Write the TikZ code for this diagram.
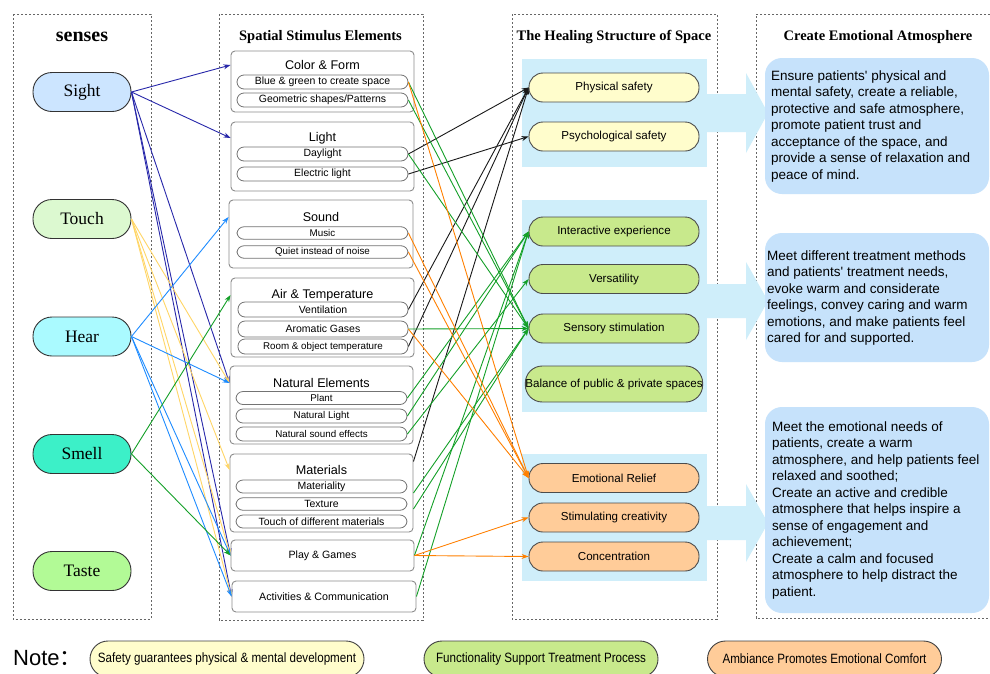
\documentclass[tikz,border=0pt]{standalone}
\usepackage{fontspec}
\setmainfont{Liberation Serif}
\newfontfamily\sansf{Liberation Sans}
\newfontfamily\cjkf{Noto Sans CJK SC}
\usetikzlibrary{arrows.meta}
\definecolor{cdb}{RGB}{40,40,170}
\definecolor{cbb}{RGB}{30,140,255}
\definecolor{cyl}{RGB}{255,214,102}
\definecolor{cgr}{RGB}{20,160,40}
\definecolor{cor}{RGB}{255,128,0}
\definecolor{cbk}{RGB}{25,25,25}
\definecolor{fsight}{RGB}{204,229,255}
\definecolor{ftouch}{RGB}{220,249,208}
\definecolor{fhear}{RGB}{170,250,255}
\definecolor{fsmell}{RGB}{60,240,200}
\definecolor{ftaste}{RGB}{178,250,150}
\definecolor{fyel}{RGB}{255,253,204}
\definecolor{fgrn}{RGB}{200,233,140}
\definecolor{fora}{RGB}{255,204,153}
\definecolor{fbg}{RGB}{207,238,250}
\definecolor{fbox}{RGB}{198,226,251}
\begin{document}
\begin{tikzpicture}[x=1pt,y=-1pt,
 colbox/.style={draw=black!60, line width=0.8pt, dash pattern=on 2.2pt off 1.8pt},
 ctitle/.style={font=\fontsize{14.5}{17}\selectfont\bfseries, inner sep=0pt},
 sensenode/.style={draw=black!80, line width=0.9pt, rounded corners=19pt, minimum width=98pt, minimum height=39pt, inner sep=0pt, font=\fontsize{17.5}{20}\selectfont},
 elbox/.style={draw=black!45, line width=0.9pt, rounded corners=4pt, fill=white, inner sep=0pt},
 eltitle/.style={font=\sansf\fontsize{12.6}{14}\selectfont, inner sep=0pt},
 subpill/.style={draw=black!55, line width=0.8pt, rounded corners=7pt, minimum width=171pt, minimum height=14pt, inner sep=0pt, fill=white, font=\sansf\fontsize{10.5}{12}\selectfont},
 hpill/.style={draw=black!70, line width=0.9pt, rounded corners=14pt, minimum width=170pt, minimum height=29pt, inner sep=0pt, font=\sansf\fontsize{11.6}{13}\selectfont},
 abox/.style={fill=fbox, draw=none, rounded corners=17pt, minimum width=224pt, inner sep=0pt},
 atext/.style={anchor=west, align=left, inner sep=0pt, font=\sansf\fontsize{13.5}{16.5}\selectfont},
 legpill/.style={draw=black!75, line width=0.9pt, rounded corners=18pt, minimum height=36pt, inner sep=0pt, font=\sansf\fontsize{13.5}{15}\selectfont},
 conn/.style={line width=0.9pt, -{Stealth[length=7pt,width=5pt]}},
]
\useasboundingbox (0,0) rectangle (990,673);
\fill[white] (0,0) rectangle (990,673);

% column frames
\draw[colbox] (13,14) rectangle (151,619);
\draw[colbox] (219,14) rectangle (423,620);
\draw[colbox] (512,14) rectangle (717,619);
\draw[colbox] (990,14) -- (756,14) -- (756,618) -- (990,618);

% titles
\node[ctitle, font=\fontsize{20}{23}\selectfont\bfseries] (h1) at (82,37) {senses};
\node[ctitle] (h2) at (320.5,37) {Spatial Stimulus Elements};
\node[ctitle] (h3) at (614,37) {The Healing Structure of Space};
\node[ctitle] (h4) at (878,37) {Create Emotional Atmosphere};

% senses
\node[sensenode, fill=fsight] (si) at (82,92) {Sight};
\node[sensenode, fill=ftouch] (to) at (82,219) {Touch};
\node[sensenode, fill=fhear] (he) at (82,336.5) {Hear};
\node[sensenode, fill=fsmell] (sm) at (82,454) {Smell};
\node[sensenode, fill=ftaste] (ta) at (82,571) {Taste};

% spatial stimulus elements
\node[elbox, minimum width=183pt, minimum height=61pt] (cf) at (322.5,81.5) {};
\node[eltitle] (cft) at (322.5,65) {Color \& Form};
\node[subpill] (bgc) at (322.5,82) {Blue \& green to create space};
\node[subpill] (geo) at (322.5,100) {Geometric shapes/Patterns};

\node[elbox, minimum width=183pt, minimum height=69pt] (lb) at (322.5,156.5) {};
\node[eltitle] (lbt) at (322.5,138) {Light};
\node[subpill] (day) at (322.5,154) {Daylight};
\node[subpill] (ele) at (322.5,174) {Electric light};

\node[elbox, minimum width=184pt, minimum height=68pt] (sb) at (321,234) {};
\node[eltitle] (sbt) at (321,217) {Sound};
\node[subpill, minimum height=12.5pt, font=\sansf\fontsize{9.8}{11}\selectfont] (mus) at (322.5,233) {Music};
\node[subpill, minimum height=12.5pt, font=\sansf\fontsize{9.8}{11}\selectfont] (qui) at (322.5,252) {Quiet instead of noise};

\node[elbox, minimum width=183pt, minimum height=79pt] (ab) at (322.5,317.5) {};
\node[eltitle] (abt) at (322.5,295) {Air \& Temperature};
\node[subpill, minimum width=170pt, minimum height=15pt] (ven) at (323,309.5) {Ventilation};
\node[subpill, minimum width=170pt, minimum height=16pt] (aro) at (323,329) {Aromatic Gases};
\node[subpill, minimum width=170pt, minimum height=15pt, font=\sansf\fontsize{9.8}{11}\selectfont] (roo) at (323,346.5) {Room \& object temperature};

\node[elbox, minimum width=183pt, minimum height=78pt] (nb) at (321.5,405) {};
\node[eltitle] (nbt) at (321.5,383) {Natural Elements};
\node[subpill, minimum height=13pt, font=\sansf\fontsize{9.8}{11}\selectfont] (pla) at (321.5,398) {Plant};
\node[subpill, font=\sansf\fontsize{9.8}{11}\selectfont] (nli) at (321.5,416) {Natural Light};
\node[subpill, font=\sansf\fontsize{9.8}{11}\selectfont] (nso) at (321.5,434) {Natural sound effects};

\node[elbox, minimum width=183pt, minimum height=78pt] (mb) at (321.5,493) {};
\node[eltitle] (mbt) at (321.5,470) {Materials};
\node[subpill, minimum height=13pt] (mty) at (321.5,486.5) {Materiality};
\node[subpill, minimum height=12.5pt] (tex) at (321.5,504) {Texture};
\node[subpill, minimum height=13pt] (tou) at (321.5,521.5) {Touch of different materials};

\node[elbox, minimum width=183pt, minimum height=31pt, font=\sansf\fontsize{10.6}{12}\selectfont] (pg) at (322.5,555.5) {Play \& Games};
\node[elbox, minimum width=184pt, minimum height=31pt, font=\sansf\fontsize{10.7}{12}\selectfont] (ac) at (324,596.5) {Activities \& Communication};

% healing structure backgrounds and big arrows
\fill[fbg] (522,59) rectangle (707,167);
\fill[fbg] (522,200) rectangle (707,412);
\fill[fbg] (522,454) rectangle (707,581);
\fill[fbg] (706,94) -- (746,94) -- (746,73) -- (768,113) -- (746,153) -- (746,132) -- (706,132) -- cycle;
\fill[fbg] (706,284) -- (746,284) -- (746,262) -- (768,301) -- (746,340) -- (746,318) -- (706,318) -- cycle;
\fill[fbg] (706,506) -- (746,506) -- (746,484) -- (768,523) -- (746,562) -- (746,540) -- (706,540) -- cycle;

\node[hpill, fill=fyel] (phs) at (614,87.5) {Physical safety};
\node[hpill, fill=fyel] (pss) at (614,136.5) {Psychological safety};
\node[hpill, fill=fgrn] (int) at (614,231.5) {Interactive experience};
\node[hpill, fill=fgrn] (ver) at (614,279) {Versatility};
\node[hpill, fill=fgrn] (sen) at (614,328.5) {Sensory stimulation};
\node[hpill, fill=fgrn, minimum height=36pt, rounded corners=17pt] (bal) at (614,384) {Balance of public \& private spaces};
\node[hpill, fill=fora] (emo) at (614,478) {Emotional Relief};
\node[hpill, fill=fora] (sti) at (614,517.5) {Stimulating creativity};
\node[hpill, fill=fora] (con) at (614,556.5) {Concentration};

% emotional atmosphere boxes
\node[abox, minimum height=136pt] (a1) at (877,126) {};
\node[atext] (a1t) at (771,126.5) {Ensure patients' physical and\\mental safety, create a reliable,\\protective and safe atmosphere,\\promote patient trust and\\acceptance of the space, and\\provide a sense of relaxation and\\peace of mind.};
\node[abox, minimum height=129pt] (a2) at (877,297.5) {};
\node[atext] (a2t) at (767,298) {Meet different treatment methods\\and patients' treatment needs,\\evoke warm and considerate\\feelings, convey caring and warm\\emotions, and make patients feel\\cared for and supported.};
\node[abox, minimum height=206pt] (a3) at (877,510) {};
\node[atext] (a3t) at (772,510) {Meet the emotional needs of\\patients, create a warm\\atmosphere, and help patients feel\\relaxed and soothed;\\Create an active and credible\\atmosphere that helps inspire a\\sense of engagement and\\achievement;\\Create a calm and focused\\atmosphere to help distract the\\patient.};

% legend
\node[anchor=west, inner sep=0pt, font=\sansf\fontsize{22}{24}\selectfont] (note) at (13,658) {Note{\cjkf ：}};
\node[legpill, fill=fyel, minimum width=274pt] (lg1) at (227,659) {\scalebox{0.86}[1]{Safety guarantees physical \& mental development}};
\node[legpill, fill=fgrn, minimum width=234pt] (lg2) at (541,659) {\scalebox{0.86}[1]{Functionality Support Treatment Process}};
\node[legpill, fill=fora, minimum width=234pt] (lg3) at (824.5,659) {\scalebox{0.86}[1]{Ambiance Promotes Emotional Comfort}};

% senses -> elements
\draw[conn, cdb] (si.east) -- (cf.west |- cft);
\draw[conn, cdb] (si.east) -- (lb.west |- lbt);
\draw[conn, cdb] (si.east) -- (nb.west |- nbt);
\draw[conn, cdb] (si.east) -- (pg.west);
\draw[conn, cdb] (si.east) -- (ac.west);

\draw[conn, cyl] (to.east) -- (nb.west |- nbt);
\draw[conn, cyl] (to.east) -- (mb.west |- mbt);
\draw[conn, cyl] (to.east) -- (pg.west);
\draw[conn, cyl] (to.east) -- (ac.west);

\draw[conn, cbb] (he.east) -- (sb.west |- sbt);
\draw[conn, cbb] (he.east) -- (nb.west |- nbt);
\draw[conn, cbb] (he.east) -- (pg.west);
\draw[conn, cbb] (he.east) -- (ac.west);

\draw[conn, cgr] (sm.east) -- (ab.west |- abt);
\draw[conn, cgr] (sm.east) -- (pg.west);

% elements -> healing structure
\draw[conn, cbk] (day.east) -- (phs.west);
\draw[conn, cbk] (ele.east) -- (pss.west);
\draw[conn, cbk] (ven.east) -- (phs.west);
\draw[conn, cbk] (roo.east) -- (phs.west);
\draw[conn, cbk] ([yshift=-8pt]mb.north east) -- (phs.west);

\draw[conn, cgr] (bgc.east) -- (sen.west);
\draw[conn, cgr] (geo.east) -- (sen.west);
\draw[conn, cgr] (day.east) -- (sen.west);
\draw[conn, cgr] (aro.east) -- (sen.west);
\draw[conn, cgr] (pla.east) -- (int.west);
\draw[conn, cgr] (nli.east) -- (int.west);
\draw[conn, cgr] (nso.east) -- (ver.west);
\draw[conn, cgr] (mb.east) -- (sen.west);
\draw[conn, cgr] ([yshift=-16pt]mb.east) -- (sen.west);
\draw[conn, cgr] (pg.east) -- (int.west);
\draw[conn, cgr] (ac.east) -- (int.west);

\draw[conn, cor] (bgc.east) -- (emo.west);
\draw[conn, cor] (mus.east) -- (emo.west);
\draw[conn, cor] (qui.east) -- (emo.west);
\draw[conn, cor] (aro.east) -- (emo.west);
\draw[conn, cor] (pg.east) -- (sti.west);
\draw[conn, cor] (pg.east) -- (con.west);
\end{tikzpicture}
\end{document}
